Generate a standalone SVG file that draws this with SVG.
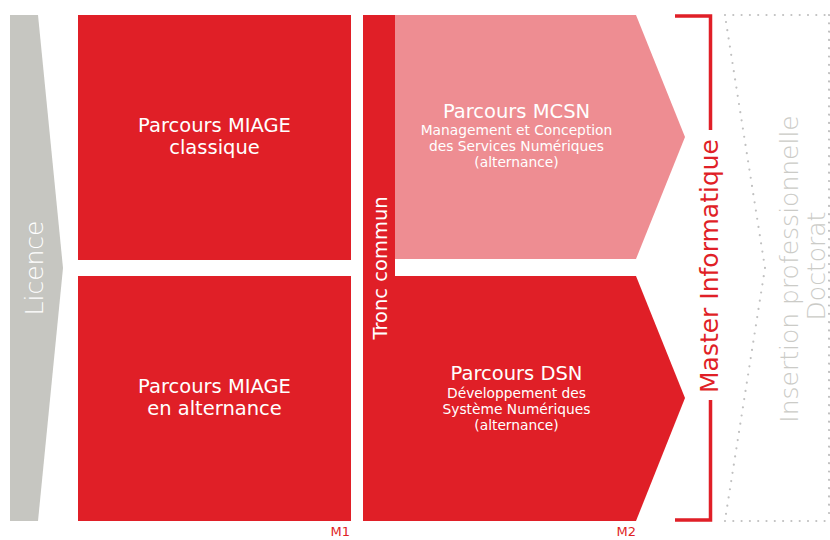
<svg xmlns="http://www.w3.org/2000/svg" width="830" height="540" viewBox="0 0 830 540">
  <style>
    text { font-family: "DejaVu Sans", "Liberation Sans", sans-serif; }
    .red { fill: #e01f27; }
    .pink { fill: #ee8d92; }
    .grey { fill: #c6c6c1; }
    .title { fill: #ffffff; font-size: 19.5px; text-anchor: middle; }
    .sub { fill: #ffffff; font-size: 13.8px; text-anchor: middle; }
    .side { font-size: 25px; text-anchor: middle; font-weight: 300; }
    .dots { fill: none; stroke: #c0c0c0; stroke-width: 2.2; stroke-linecap: round; stroke-dasharray: 0 8.3; }
    .mlabel { fill: #e01f27; font-size: 13px; text-anchor: end; }
  </style>
  <rect width="830" height="540" fill="#ffffff"/>

  <g id="licence">
    <polygon class="grey" points="10,15 38,15 63,268 38,521 10,521"/>
    <text class="side" fill="#ffffff" transform="translate(43,268) rotate(-90)">Licence</text>
  </g>

  <g id="miage-classique">
    <rect class="red" x="78" y="15" width="273" height="245"/>
    <text class="title" x="214.5" y="132">Parcours MIAGE</text>
    <text class="title" x="214.5" y="154">classique</text>
  </g>

  <g id="miage-alternance">
    <rect class="red" x="78" y="276" width="273" height="245"/>
    <text class="title" x="214.5" y="393">Parcours MIAGE</text>
    <text class="title" x="214.5" y="415">en alternance</text>
  </g>

  <g id="tronc-commun">
    <rect class="red" x="363" y="15" width="32" height="506"/>
    <text class="title" transform="translate(387,268) rotate(-90)">Tronc commun</text>
  </g>

  <g id="mcsn">
    <polygon class="pink" points="395,15 636,15 685,137 636,259 395,259"/>
    <text class="title" x="516.5" y="118">Parcours MCSN</text>
    <text class="sub" x="516.5" y="135">Management et Conception</text>
    <text class="sub" x="516.5" y="151">des Services Numériques</text>
    <text class="sub" x="516.5" y="167">(alternance)</text>
  </g>

  <g id="dsn">
    <polygon class="red" points="395,276 636,276 685,398 636,521 395,521"/>
    <text class="title" x="516.5" y="380">Parcours DSN</text>
    <text class="sub" x="516.5" y="397.5">Développement des</text>
    <text class="sub" x="516.5" y="413.5">Système Numériques</text>
    <text class="sub" x="516.5" y="429.5">(alternance)</text>
  </g>

  <g id="labels">
    <text class="mlabel" x="350" y="536">M1</text>
    <text class="mlabel" x="636" y="536">M2</text>
  </g>

  <g id="master-informatique">
    <path d="M675,16 H710.5 V130 M710.5,400 V520 H675" fill="none" stroke="#e01f27" stroke-width="3.5"/>
    <text class="side" fill="#e01f27" style="font-weight:400" transform="translate(718,266) rotate(-90)">Master Informatique</text>
  </g>

  <g id="insertion">
    <g id="connectors">
      <path class="dots" d="M725,15 H830 M726,22 L765,268 L726,514 M725,521 H830 M829,15 V521"/>
    </g>
    <text class="side" fill="#cbcbc7" transform="translate(798,269) rotate(-90)">Insertion professionnelle</text>
    <text class="side" fill="#cbcbc7" transform="translate(825,266) rotate(-90)">Doctorat</text>
  </g>
</svg>
